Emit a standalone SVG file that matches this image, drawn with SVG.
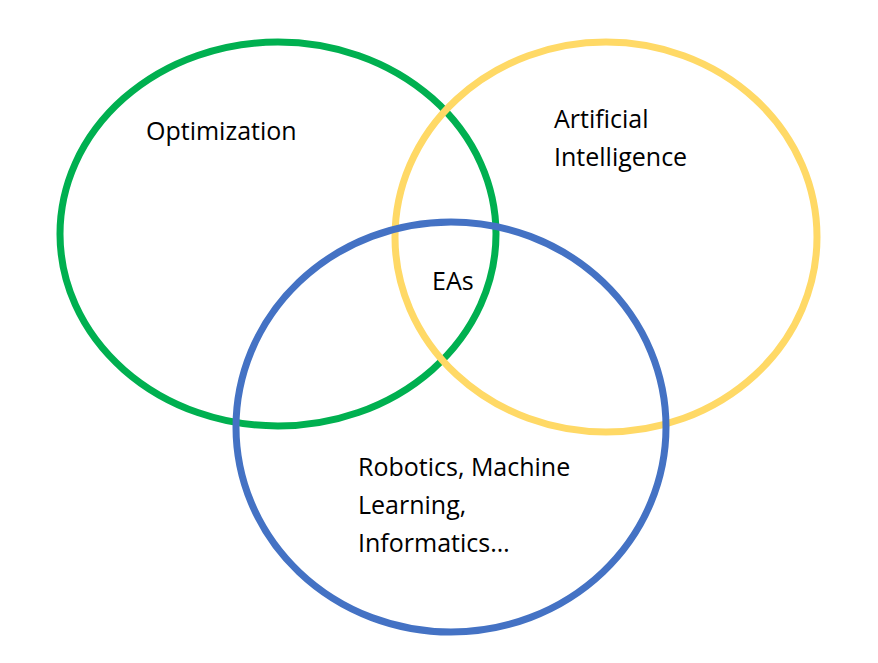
<svg xmlns="http://www.w3.org/2000/svg" width="878" height="663" viewBox="0 0 878 663">
<style>
.c{fill:none;stroke-width:7}
.t{font-family:"Open Sans","Noto Sans",sans-serif;font-size:25px;fill:#000}
</style>
<rect width="878" height="663" fill="#fff"/>
<g id="optimization">
<ellipse class="c" cx="278" cy="234" rx="218" ry="192" stroke="#00B050"/>
<text class="t" x="146" y="140">Optimization</text>
</g>
<g id="ai">
<ellipse class="c" cx="606" cy="237" rx="211" ry="195" stroke="#FFD966"/>
<text class="t" x="554" y="128">Artificial</text>
<text class="t" x="554" y="166">Intelligence</text>
</g>
<g id="robotics">
<ellipse class="c" cx="451" cy="427" rx="215" ry="205" stroke="#4472C4"/>
<text class="t" x="358" y="476">Robotics, Machine</text>
<text class="t" x="358" y="514">Learning,</text>
<text class="t" x="358" y="552">Informatics…</text>
</g>
<g id="eas">
<text class="t" x="432" y="290">EAs</text>
</g>
<g id="connectors"/>
</svg>
